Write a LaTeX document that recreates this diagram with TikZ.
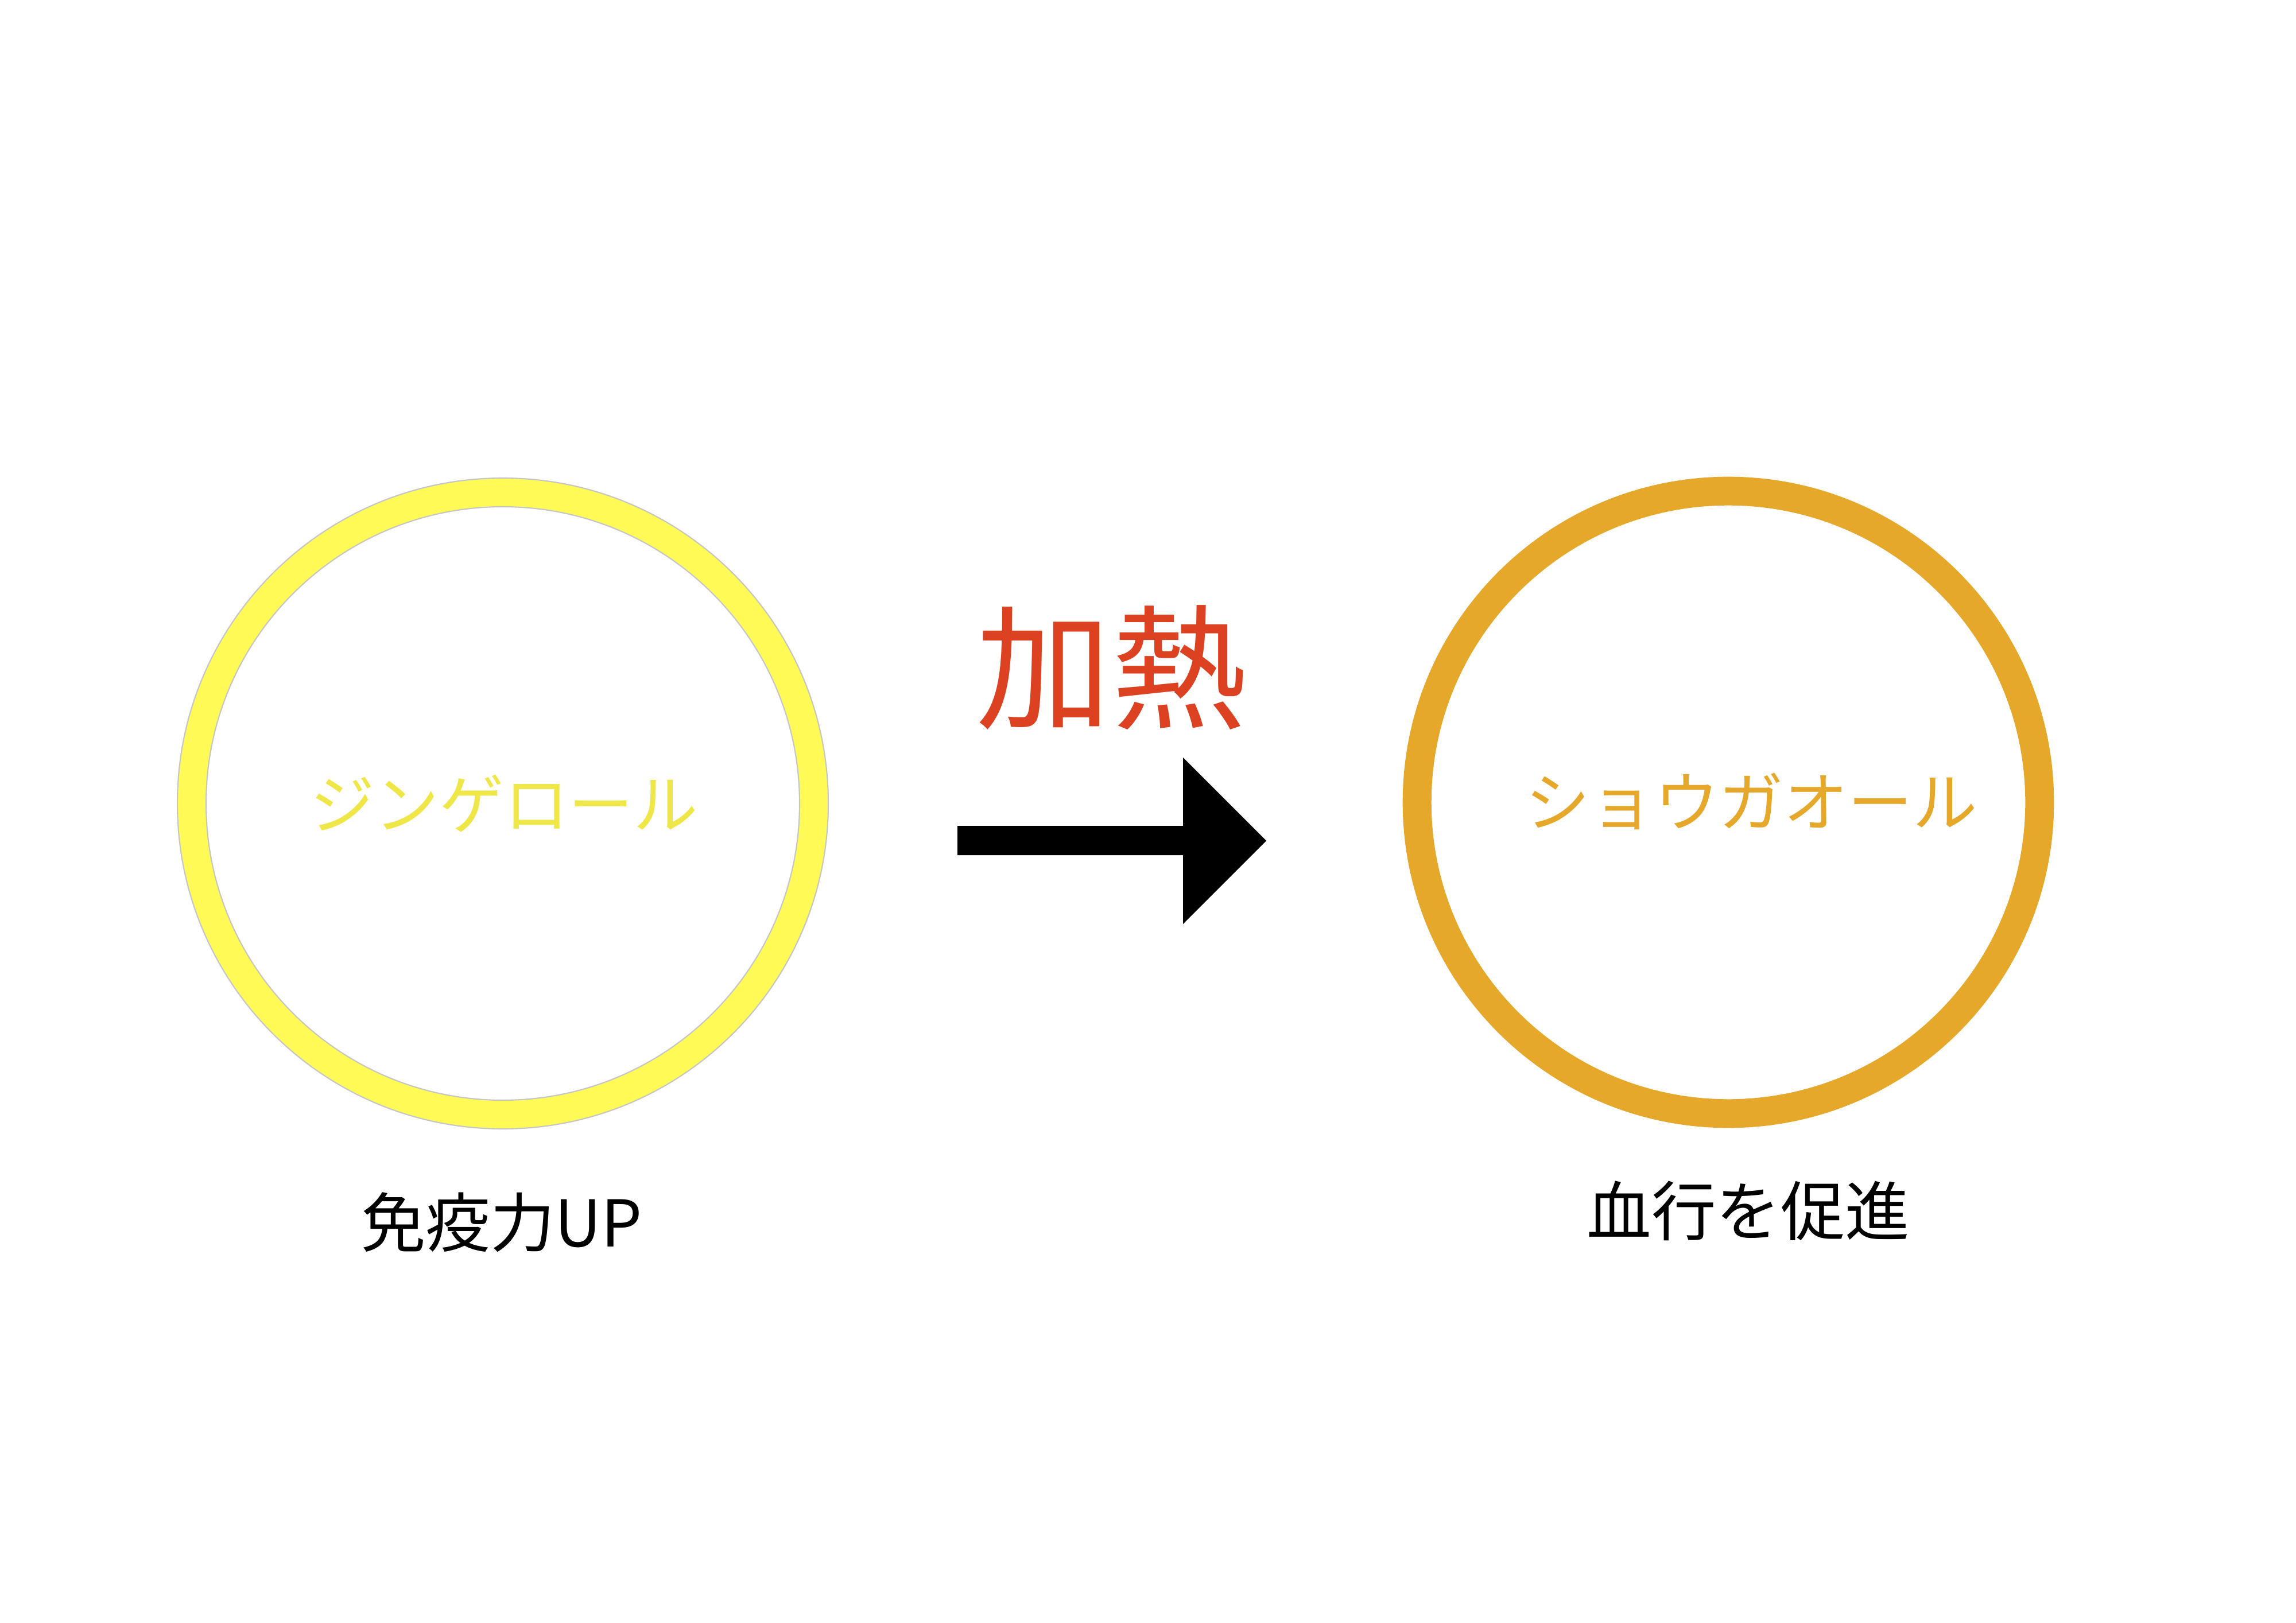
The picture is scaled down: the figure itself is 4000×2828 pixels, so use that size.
\documentclass[tikz,border=0pt]{standalone}
\usepackage{fontspec}
\newfontfamily\jp{Noto Sans CJK JP}
\definecolor{ringyellow}{HTML}{FFFA55}
\definecolor{textyellow}{HTML}{EFE747}
\definecolor{ringorange}{HTML}{E6A82A}
\definecolor{heatred}{HTML}{DC4122}
\begin{document}
\begin{tikzpicture}[x=0.01cm,y=-0.01cm,
  ring/.style={circle,minimum size=10.84cm,inner sep=0pt,line width=0.5cm},
  ringtext/.style={font=\jp\fontsize{32}{36}\selectfont},
  label/.style={font=\jp\fontsize{32}{36}\selectfont,text=black},
  heat/.style={font=\jp\fontsize{67}{70}\selectfont,text=heatred}]
\fill[white] (0,0) rectangle (4000,2828);
\useasboundingbox (0,0) rectangle (4000,2828);
% left ring
\node[ring,draw=ringyellow] (gin) at (876,1400) {};
\draw[gray!45,line width=0.6pt] (876,1400) circle[radius=567];
\draw[gray!45,line width=0.6pt] (876,1400) circle[radius=517];
\node[ringtext,text=textyellow] (gint) at (878,1400) {ジンゲロール};
\node[label] (ginl) at (874,2130) {免疫力UP};
% right ring
\node[ring,draw=ringorange] (sho) at (3011,1398) {};
\node[ringtext,text=ringorange] (shot) at (3051,1396) {ショウガオール};
\node[label] (shol) at (3046,2110) {血行を促進};
% heat label and arrow
\node[heat] (heat) at (1936,1163) {加熱};
\coordinate (a1) at (1668,1439);
\coordinate (a2) at (2061,1439);
\coordinate (a3) at (2061,1320);
\coordinate (tip) at (2206,1465);
\coordinate (a5) at (2061,1610);
\coordinate (a6) at (2061,1490);
\coordinate (a7) at (1668,1490);
\fill[black] (a1) -- (a2) -- (a3) -- (tip) -- (a5) -- (a6) -- (a7) -- cycle;
\end{tikzpicture}
\end{document}
